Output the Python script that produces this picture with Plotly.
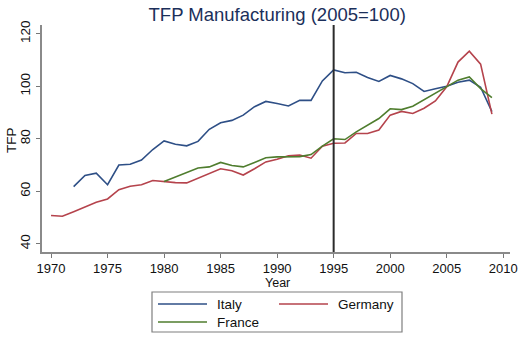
import plotly.graph_objects as go

years = list(range(1970, 2010))

italy = [None, None, 61.8, 66.0, 66.9, 62.5, 70.0, 70.3, 71.9, 75.9,
         79.2, 77.9, 77.3, 79.0, 83.6, 86.1, 87.0, 89.0, 92.2, 94.2,
         93.4, 92.5, 94.6, 94.6, 102.0, 106.2, 105.1, 105.3, 103.3, 101.8,
         104.1, 102.8, 101.0, 98.0, 99.0, 100.0, 101.5, 102.3, 99.6, 90.3]

germany = [50.8, 50.5, 52.2, 54.1, 55.8, 57.1, 60.6, 61.9, 62.5, 64.1,
           63.7, 63.3, 63.2, 64.9, 66.7, 68.6, 67.8, 66.2, 68.6, 71.2,
           72.2, 73.5, 73.8, 72.6, 77.2, 78.3, 78.4, 82.0, 82.0, 83.3,
           89.0, 90.4, 89.6, 91.6, 94.4, 99.8, 109.2, 113.3, 108.4, 89.4]

france = [None] * 10 + [63.7, 65.5, 67.4, 68.9, 69.3, 71.0, 69.8, 69.3, 71.0, 72.8,
                        73.1, 73.2, 73.2, 74.0, 77.2, 80.0, 79.7, 82.6, 85.2, 87.7,
                        91.4, 91.1, 92.4, 94.9, 97.5, 100.0, 102.3, 103.5, 99.1, 95.7]

series_names = ["Italy", "Germany", "France"]
series_values = [italy, germany, france]
series_colors = ["#2e4f86", "#b5434c", "#4f7d2e"]

x_ticks = [1970, 1975, 1980, 1985, 1990, 1995, 2000, 2005, 2010]
y_ticks = [40, 60, 80, 100, 120]
marker_year = 1995

FONT = "Liberation Sans, Arial"
fig = go.Figure()
for name, vals, col in zip(series_names, series_values, series_colors):
    fig.add_trace(go.Scatter(x=years, y=vals, mode="lines", name=name,
                             line=dict(color=col, width=1.6), showlegend=False))

fig.add_shape(type="line", xref="x", yref="paper", x0=marker_year, x1=marker_year,
              y0=0, y1=1, line=dict(color="#2b2b2b", width=2))

L, T, W, H = 42, 25, 468, 227
def px(xp):
    return (xp - L) / W
def py(yp):
    return (T + H - yp) / H

# axis titles placed as in the reference
fig.add_annotation(xref="paper", yref="paper", x=px(277), y=py(282.5), text="Year",
                   showarrow=False, xanchor="center", yanchor="middle",
                   font=dict(size=12.5, color="#111111", family=FONT))
fig.add_annotation(xref="paper", yref="paper", x=px(11), y=py(140), text="TFP",
                   showarrow=False, xanchor="center", yanchor="middle", textangle=-90,
                   font=dict(size=13.5, color="#111111", family=FONT))

# manual legend (2 columns, Stata style)
fig.add_shape(type="rect", xref="paper", yref="paper",
              x0=px(152), x1=px(402), y0=py(292), y1=py(332),
              line=dict(color="#7f7f7f", width=1.2), fillcolor="white")
slots = [(158, 304), (279, 304), (158, 322)]
for (sx, sy), name, col in zip(slots, series_names, series_colors):
    fig.add_shape(type="line", xref="paper", yref="paper",
                  x0=px(sx), x1=px(sx + 49), y0=py(sy), y1=py(sy),
                  line=dict(color=col, width=1.6))
    fig.add_annotation(xref="paper", yref="paper", x=px(sx + 57), y=py(sy),
                       text=name, showarrow=False, xanchor="left", yanchor="middle",
                       font=dict(size=13.5, color="#111111", family=FONT))

fig.update_layout(
    width=524, height=338,
    margin=dict(l=L, r=524 - L - W, t=T, b=338 - T - H),
    paper_bgcolor="white", plot_bgcolor="white",
    font=dict(family=FONT, size=13, color="#111111"),
    title=dict(text="TFP Manufacturing (2005=100)", x=0.529, xanchor="center",
               y=0.958, yanchor="middle",
               font=dict(size=18.5, color="#1b2f5a", family=FONT)),
    showlegend=False,
)
fig.update_xaxes(range=[1969.2, 2010.6], tickvals=x_ticks, ticks="outside", ticklen=4,
                 tickcolor="#777777", showline=True, linecolor="#8a8a8a", linewidth=1.5,
                 showgrid=False, zeroline=False, automargin=False,
                 tickfont=dict(size=13, color="#111111"))
fig.update_yaxes(range=[36.9, 123.3], tickvals=y_ticks, ticks="outside", ticklen=4,
                 tickcolor="#777777", showline=True, linecolor="#8a8a8a", linewidth=1.5,
                 showgrid=False, zeroline=False, tickangle=-90, ticklabelstandoff=1,
                 automargin=False,
                 tickfont=dict(size=13.5, color="#111111"))

fig.write_html("out.html")
